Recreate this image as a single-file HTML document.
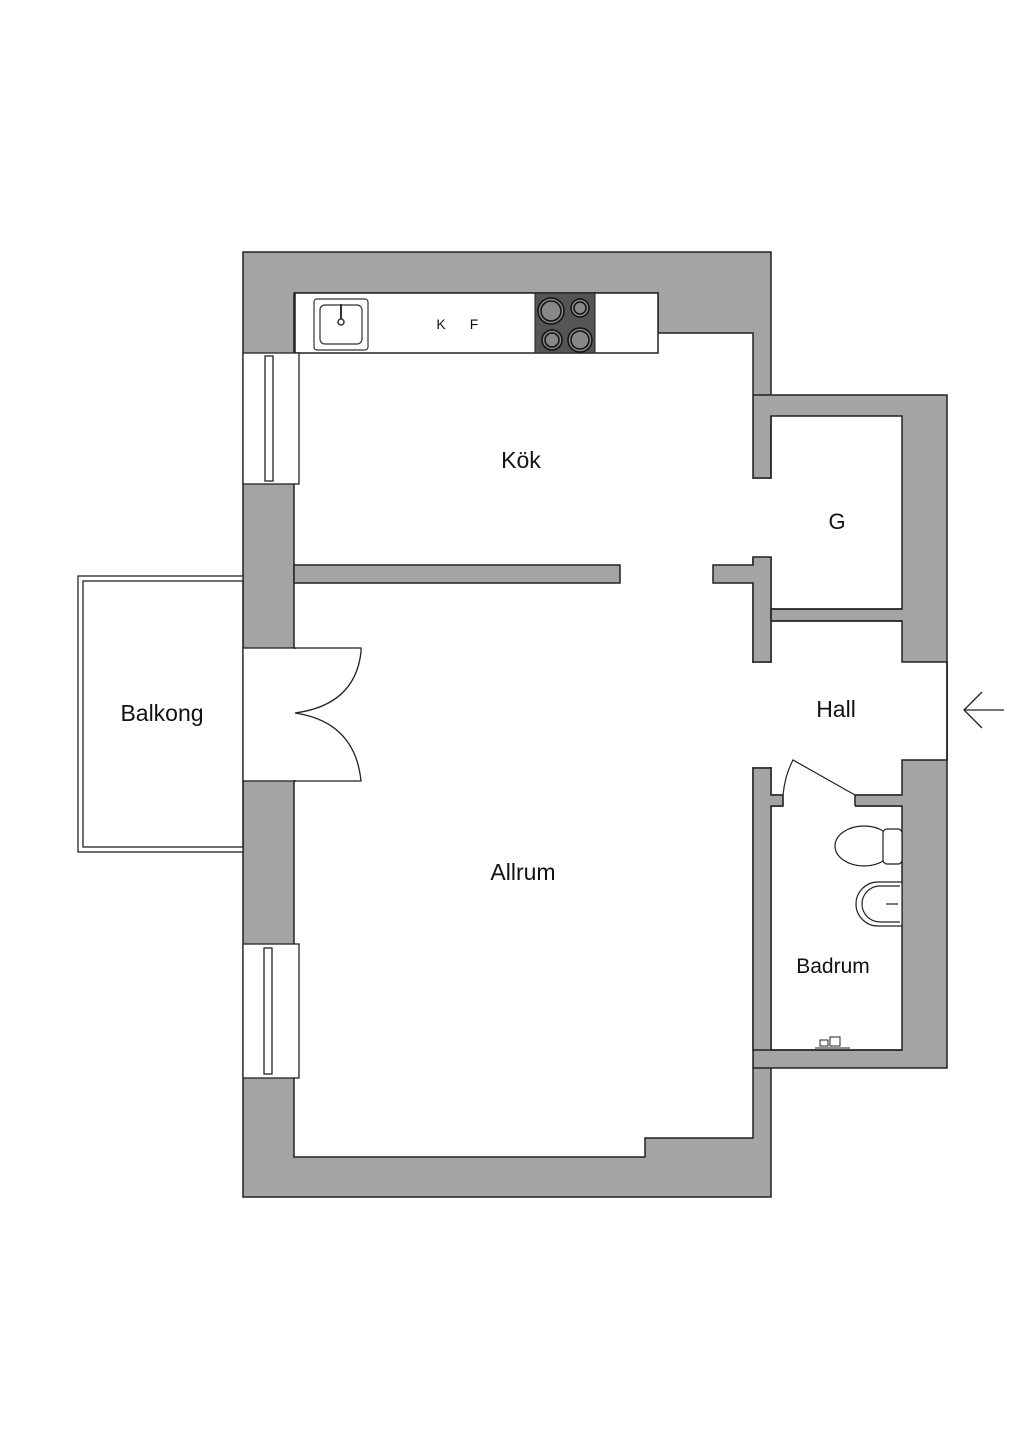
<!DOCTYPE html>
<html><head><meta charset="utf-8"><style>
html,body{margin:0;padding:0;background:#fff;}
svg{display:block;}
text{font-family:"Liberation Sans",sans-serif;fill:#111;}
</style></head><body>
<svg width="1024" height="1449" viewBox="0 0 1024 1449" xmlns="http://www.w3.org/2000/svg">
<g stroke="#222" stroke-width="1.5">
<!-- gray masses -->
<rect x="243" y="252" width="528" height="945" fill="#a4a4a4"/>
<rect x="753" y="395" width="194" height="673" fill="#a4a4a4"/>
<!-- main interior -->
<polygon points="294,293 658,293 658,333 753,333 753,1138 645,1138 645,1157 294,1157" fill="#fff"/>
<!-- internal wall kitchen/allrum -->
<rect x="294" y="565" width="326" height="18" fill="#a4a4a4"/>
<!-- G closet -->
<rect x="771" y="416" width="131" height="193" fill="#fff"/>
<!-- Hall -->
<polygon points="771,621 902,621 902,662 947,662 947,760 902,760 902,795 771,795" fill="#fff"/>
<!-- Bath -->
<rect x="771" y="806" width="131" height="244" fill="#fff"/>
</g>
<!-- openings (no stroke) -->
<rect x="752" y="479" width="20" height="78" fill="#fff"/>
<rect x="752" y="663" width="20" height="104" fill="#fff"/>
<rect x="772" y="760" width="129" height="35" fill="#fff"/>
<rect x="783" y="794" width="72" height="14" fill="#fff"/>
<rect x="772" y="794" width="11" height="12" fill="#a4a4a4"/>
<rect x="855" y="794" width="47" height="12" fill="#a4a4a4"/>
<g stroke="#222" stroke-width="1.5" fill="#a4a4a4">
<!-- step near G door -->
<polygon points="713,565 753,565 753,557 771,557 771,662 753,662 753,583 713,583"/>
<polygon points="753,768 771,768 771,795 783,795 783,806 771,806 771,1050 753,1050"/>
<polyline points="753,478 771,478 771,416" fill="none"/>
<line x1="771" y1="609" x2="902" y2="609"/><line x1="771" y1="621" x2="902" y2="621"/>
<line x1="771" y1="609" x2="771" y2="621"/><line x1="947" y1="662" x2="947" y2="760"/>
<line x1="855" y1="795" x2="902" y2="795"/><line x1="855" y1="806" x2="902" y2="806"/><line x1="855" y1="795" x2="855" y2="806"/>
<line x1="771" y1="1050" x2="902" y2="1050"/>
</g>
<!-- bath door -->
<path d="M783,806 L783,795 Q785,775 793,760 L855,795" fill="none" stroke="#222" stroke-width="1.2"/>
<!-- kitchen counter -->
<rect x="295" y="293" width="363" height="60" fill="#fff" stroke="#222" stroke-width="1.5"/>
<rect x="314" y="299" width="54" height="51" rx="3" fill="#fff" stroke="#333" stroke-width="1.2"/>
<rect x="320" y="305" width="42" height="39" rx="5" fill="#fff" stroke="#333" stroke-width="1.2"/>
<line x1="341" y1="304" x2="341" y2="320" stroke="#333" stroke-width="2"/>
<circle cx="341" cy="322" r="3" fill="#fff" stroke="#333" stroke-width="1.5"/>
<rect x="535" y="293" width="60" height="60" fill="#555" stroke="#222"/>
<g fill="#888" stroke="#111" stroke-width="1.5">
<circle cx="551" cy="311" r="13"/><circle cx="551" cy="311" r="10"/>
<circle cx="580" cy="308" r="9"/><circle cx="580" cy="308" r="6"/>
<circle cx="552" cy="340" r="10"/><circle cx="552" cy="340" r="7"/>
<circle cx="580" cy="340" r="12"/><circle cx="580" cy="340" r="9"/>
</g>
<!-- windows -->
<g fill="#fff" stroke="#222" stroke-width="1.3">
<rect x="243" y="353" width="56" height="131"/>
<rect x="265" y="356" width="8" height="125"/>
<rect x="243" y="944" width="56" height="134"/>
<rect x="264" y="948" width="8" height="126"/>
</g>
<!-- balcony -->
<rect x="78" y="576" width="165" height="276" fill="#fff" stroke="#222" stroke-width="1.3"/>
<rect x="83" y="581" width="160" height="266" fill="none" stroke="#222" stroke-width="1.3"/>
<!-- balcony door -->
<rect x="243" y="648" width="52" height="133" fill="#fff" stroke="#222" stroke-width="1.3"/>
<rect x="293" y="649" width="4" height="131" fill="#fff"/>
<path d="M294,648 L361,648 L361,652 Q355,705 295,713 Q355,722 361,781 L294,781" fill="none" stroke="#222" stroke-width="1.3"/>
<!-- toilet -->
<g fill="#fff" stroke="#222" stroke-width="1.2">
<ellipse cx="864" cy="846" rx="29" ry="20"/>
<rect x="883" y="829" width="19" height="35" rx="4"/>
<path d="M902,882 L878,882 A22,22 0 0 0 878,926 L902,926 Z"/>
<path d="M900,886 L880,886 A18,18 0 0 0 880,922 L900,922"/>
<line x1="886" y1="904" x2="898" y2="904"/>
</g>
<!-- faucet on bath floor -->
<g fill="none" stroke="#222" stroke-width="1">
<rect x="820" y="1040" width="8" height="6"/><rect x="830" y="1037" width="10" height="9"/><line x1="815" y1="1048" x2="850" y2="1048"/>
</g>
<!-- entry arrow -->
<g stroke="#222" stroke-width="1.3" fill="none">
<line x1="964" y1="710" x2="1004" y2="710"/>
<polyline points="982,692 964,710 982,728"/>
</g>
<!-- labels -->
<text x="521" y="468" font-size="23" text-anchor="middle">Kök</text>
<text x="441" y="329" font-size="14" text-anchor="middle">K</text>
<text x="474" y="329" font-size="14" text-anchor="middle">F</text>
<text x="837" y="529" font-size="22" text-anchor="middle">G</text>
<text x="836" y="717" font-size="23" text-anchor="middle">Hall</text>
<text x="162" y="721" font-size="23" text-anchor="middle">Balkong</text>
<text x="523" y="880" font-size="23" text-anchor="middle">Allrum</text>
<text x="833" y="973" font-size="21" text-anchor="middle">Badrum</text>
</svg>
</body></html>
